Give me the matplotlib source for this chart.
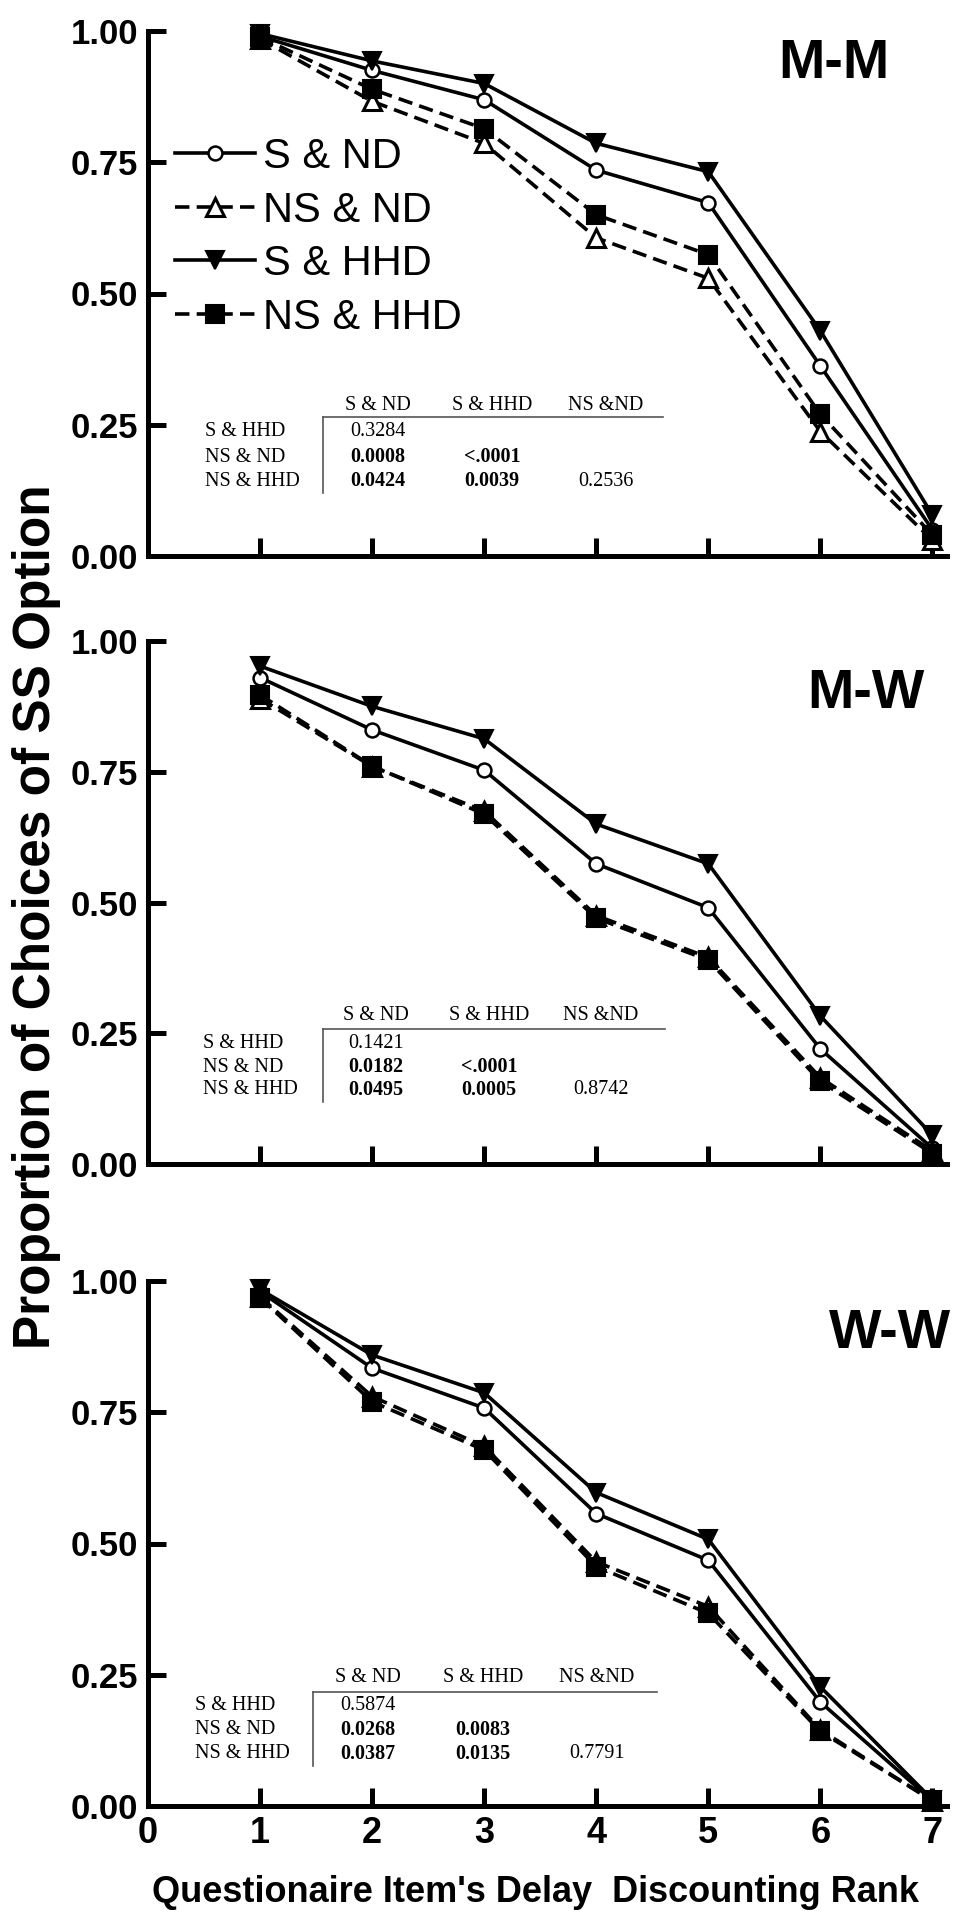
import matplotlib
matplotlib.use("Agg")
import matplotlib.pyplot as plt
from matplotlib.lines import Line2D

W, H = 967, 1920

ranks = [1, 2, 3, 4, 5, 6, 7]
series_names = ["S & ND", "NS & ND", "S & HHD", "NS & HHD"]

# panel M-M
mm_s_nd = [0.99, 0.925, 0.869, 0.735, 0.673, 0.362, 0.05]
mm_ns_nd = [0.985, 0.866, 0.786, 0.606, 0.529, 0.237, 0.03]
mm_s_hhd = [0.995, 0.943, 0.90, 0.786, 0.732, 0.429, 0.078]
mm_ns_hhd = [0.988, 0.889, 0.814, 0.65, 0.574, 0.27, 0.04]

# panel M-W
mw_s_nd = [0.93, 0.83, 0.753, 0.574, 0.49, 0.22, 0.03]
mw_ns_nd = [0.89, 0.76, 0.675, 0.475, 0.395, 0.165, 0.025]
mw_s_hhd = [0.952, 0.875, 0.813, 0.65, 0.574, 0.283, 0.055]
mw_ns_hhd = [0.897, 0.761, 0.669, 0.47, 0.39, 0.158, 0.02]

# panel W-W
ww_s_nd = [0.98, 0.834, 0.758, 0.557, 0.468, 0.198, 0.01]
ww_ns_nd = [0.97, 0.78, 0.685, 0.465, 0.38, 0.145, 0.01]
ww_s_hhd = [0.984, 0.859, 0.787, 0.597, 0.508, 0.227, 0.012]
ww_ns_hhd = [0.968, 0.77, 0.678, 0.456, 0.367, 0.142, 0.01]

panel_titles = ["M-M", "M-W", "W-W"]

y_ticks = [0.0, 0.25, 0.5, 0.75, 1.0]
y_tick_labels = ["0.00", "0.25", "0.50", "0.75", "1.00"]
x_ticks = [0, 1, 2, 3, 4, 5, 6, 7]
x_tick_labels = ["0", "1", "2", "3", "4", "5", "6", "7"]

table_cols = ["S & ND", "S & HHD", "NS &ND"]
table_rows = ["S & HHD", "NS & ND", "NS & HHD"]
mm_p = [["0.3284", "", ""], ["0.0008", "<.0001", ""], ["0.0424", "0.0039", "0.2536"]]
mw_p = [["0.1421", "", ""], ["0.0182", "<.0001", ""], ["0.0495", "0.0005", "0.8742"]]
ww_p = [["0.5874", "", ""], ["0.0268", "0.0083", ""], ["0.0387", "0.0135", "0.7791"]]

panels = [
    (mm_s_nd, mm_ns_nd, mm_s_hhd, mm_ns_hhd, mm_p),
    (mw_s_nd, mw_ns_nd, mw_s_hhd, mw_ns_hhd, mw_p),
    (ww_s_nd, ww_ns_nd, ww_s_hhd, ww_ns_hhd, ww_p),
]

# --- layout (pixels) ---
ax_tops = [31, 641, 1281]
ax_bots = [556, 1164, 1806]
ax_left, ax_right = 148, 947
title_pos = [(834, 64), (866, 694), (890, 1334)]
tables_geo = [
    dict(hy=405, ly=417, rows=[432, 457, 481], lx=205, vx=323, cx=[378, 492, 606], rx=663),
    dict(hy=1015, ly=1029, rows=[1043, 1067, 1090], lx=203, vx=323, cx=[376, 489, 601], rx=665),
    dict(hy=1678, ly=1692, rows=[1706, 1730, 1754], lx=195, vx=313, cx=[368, 483, 597], rx=657),
]

def fx(x):
    return x / W

def fy(y):
    return 1 - y / H

fig = plt.figure(figsize=(W / 100, H / 100), dpi=100)
bold = dict(family="Liberation Sans", weight="bold")

styles = [
    dict(ls="-", marker="o", mfc="white", ms=10, mew=1.8),
    dict(ls=(0, (4, 2)), marker="^", mfc="white", ms=13, mew=2.2),
    dict(ls="-", marker="v", mfc="black", ms=13, mew=1.5),
    dict(ls=(0, (4, 2)), marker="s", mfc="black", ms=13.5, mew=1.5),
]

for i, (s_nd, ns_nd, s_hhd, ns_hhd, pv) in enumerate(panels):
    b = fy(ax_bots[i])
    t = fy(ax_tops[i])
    ax = fig.add_axes([fx(ax_left), b, fx(ax_right - ax_left), t - b])
    for vals, name, st in zip([s_nd, ns_nd, s_hhd, ns_hhd], series_names, styles):
        ax.plot(ranks, vals, color="black", lw=2.6, linestyle=st["ls"], marker=st["marker"],
                markerfacecolor=st["mfc"], markeredgecolor="black", markersize=st["ms"],
                markeredgewidth=st["mew"], label=name, clip_on=False, zorder=3)
    ax.set_xlim(0, 7.13)
    ax.set_ylim(0, 1.0)
    for sp in ["top", "right"]:
        ax.spines[sp].set_visible(False)
    for sp in ["left", "bottom"]:
        ax.spines[sp].set_linewidth(3.6)
        ax.spines[sp].set_capstyle("projecting")
    ax.set_yticks(y_ticks)
    ax.set_yticklabels(y_tick_labels, fontdict=dict(fontsize=25, **bold))
    ax.set_xticks(x_ticks)
    if i == 2:
        ax.set_xticklabels(x_tick_labels, fontdict=dict(fontsize=26, **bold))
    else:
        ax.set_xticklabels([])
    ax.tick_params(axis="both", direction="in", length=13, width=3.6, pad=7)
    ax.text(fx(title_pos[i][0]), fy(title_pos[i][1]), panel_titles[i], transform=fig.transFigure,
            ha="center", va="center", fontsize=40, **bold)

    if i == 0:
        ax.legend(loc="upper left", bbox_to_anchor=((175 - ax_left) / (ax_right - ax_left),
                                                    1 - (137 - ax_tops[0]) / (ax_bots[0] - ax_tops[0])),
                  frameon=False, prop=dict(family="Liberation Sans", size=30),
                  handlelength=1.92, handletextpad=0.2, labelspacing=0.325,
                  borderpad=0, borderaxespad=0)

    g = tables_geo[i]
    tf = dict(family="Liberation Serif", size=14.5)
    for c, lab in enumerate(table_cols):
        fig.text(fx(g["cx"][c]), fy(g["hy"]), lab, ha="center", va="center", **tf)
    fig.add_artist(Line2D([fx(g["vx"]), fx(g["rx"])], [fy(g["ly"]), fy(g["ly"])],
                          color="#555555", lw=1.2, transform=fig.transFigure))
    fig.add_artist(Line2D([fx(g["vx"]), fx(g["vx"])], [fy(g["ly"]), fy(g["rows"][-1] + 12)],
                          color="#555555", lw=1.2, transform=fig.transFigure))
    for r, lab in enumerate(table_rows):
        fig.text(fx(g["lx"]), fy(g["rows"][r]), lab, ha="left", va="center", **tf)
        for c in range(3):
            v = pv[r][c]
            if not v:
                continue
            num = 0.0 if v.startswith("<") else float(v)
            fig.text(fx(g["cx"][c]), fy(g["rows"][r]), v, ha="center", va="center",
                     family="Liberation Serif", size=14.5,
                     weight="bold" if num < 0.05 else "normal")

fig.text(fx(37), fy(917), "Proportion of Choices of SS Option", rotation=90,
         ha="center", va="center", fontsize=37, **bold)
fig.text(fx(536), fy(1893), "Questionaire Item's Delay  Discounting Rank",
         ha="center", va="center", fontsize=26, **bold)

fig.savefig("out.png", dpi=100)
